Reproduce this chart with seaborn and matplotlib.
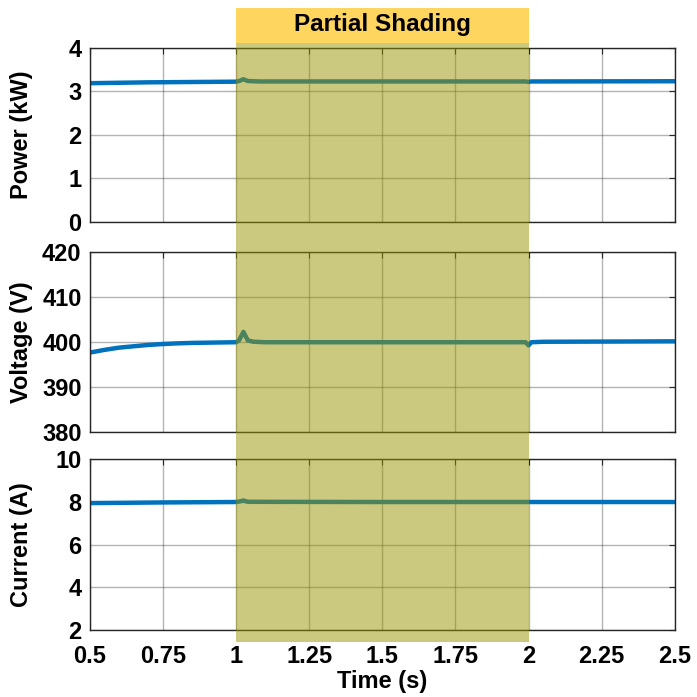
import pandas as pd
import seaborn as sns
import matplotlib.pyplot as plt
from matplotlib.patches import Rectangle
from matplotlib.transforms import blended_transform_factory

# datos
t_power = [0.5, 0.6, 0.7, 0.8, 0.9, 1.0, 1.01, 1.025, 1.04, 1.08, 1.5, 1.99, 2.0, 2.01, 2.5]
power = [3.19, 3.20, 3.21, 3.215, 3.22, 3.225, 3.24, 3.28, 3.24, 3.23, 3.23, 3.23, 3.22, 3.23, 3.235]

t_volt = [0.5, 0.55, 0.6, 0.65, 0.7, 0.75, 0.8, 0.85, 0.9, 0.95, 1.0, 1.01, 1.025,
          1.04, 1.06, 1.1, 1.5, 1.99, 2.0, 2.01, 2.05, 2.5]
voltage = [397.7, 398.3, 398.8, 399.1, 399.4, 399.6, 399.75, 399.85, 399.9, 399.95, 400.0,
           400.4, 402.3, 400.4, 400.1, 400.0, 400.0, 400.0, 399.3, 400.0, 400.1, 400.2]

t_curr = [0.5, 0.75, 1.0, 1.01, 1.025, 1.04, 1.5, 2.0, 2.5]
current = [7.95, 7.98, 8.0, 8.02, 8.07, 8.01, 8.0, 8.0, 8.0]

x_ticks = [0.5, 0.75, 1, 1.25, 1.5, 1.75, 2, 2.25, 2.5]
x_labels = ['0.5', '0.75', '1', '1.25', '1.5', '1.75', '2', '2.25', '2.5']
shade_start, shade_end = 1.0, 2.0

sns.set_style('white')
plt.rcParams['font.family'] = ['Liberation Sans', 'DejaVu Sans']
plt.rcParams['font.weight'] = 'bold'
plt.rcParams['text.color'] = 'black'
plt.rcParams['axes.labelcolor'] = 'black'
plt.rcParams['xtick.labelcolor'] = 'black'
plt.rcParams['ytick.labelcolor'] = 'black'

FS = 17

fig = plt.figure(figsize=(6.97, 6.97), dpi=100)
L, W = 0.129, 0.839
ax1 = fig.add_axes([L, 0.6815, W, 0.2497])
ax2 = fig.add_axes([L, 0.380, W, 0.258])
ax3 = fig.add_axes([L, 0.096, W, 0.245])

paneles = [
    (ax1, t_power, power, 'Power (kW)', (0, 4), [0, 1, 2, 3, 4]),
    (ax2, t_volt, voltage, 'Voltage (V)', (380, 420), [380, 390, 400, 410, 420]),
    (ax3, t_curr, current, 'Current (A)', (2, 10), [2, 4, 6, 8, 10]),
]

for ax, t, y, lab, lim, yt in paneles:
    df = pd.DataFrame({'t': t, 'y': y})
    sns.lineplot(data=df, x='t', y='y', ax=ax, color='#0072BD', linewidth=3.2)
    ax.set_xlim(0.5, 2.5)
    ax.set_ylim(*lim)
    ax.set_yticks(yt)
    ax.set_xticks(x_ticks)
    ax.grid(True, color='#262626', alpha=0.35, linewidth=1)
    ax.set_ylabel(lab, fontsize=FS, fontweight='bold', color='black')
    ax.set_xlabel('')
    ax.tick_params(axis='y', labelsize=FS, direction='in', length=4,
                   right=True, color='#262626', labelcolor='black', pad=6)
    ax.tick_params(axis='x', labelsize=FS, direction='in', length=4,
                   top=True, color='#262626', labelcolor='black', pad=11)
    for s in ax.spines.values():
        s.set_color('#262626')
        s.set_linewidth(1)
    for lbl in ax.get_yticklabels():
        lbl.set_fontweight('bold')
    ax.yaxis.set_label_coords(-0.097, 0.5)

ax1.tick_params(labelbottom=False)
ax2.tick_params(labelbottom=False)
ax3.set_xticklabels(x_labels, fontweight='bold')
ax3.set_xlabel('Time (s)', fontsize=FS, fontweight='bold', labelpad=1, color='black')

# zona de sombreado parcial
tr = blended_transform_factory(ax1.transData, fig.transFigure)
fig.patches.append(Rectangle((shade_start, 1 - 642 / 697), shade_end - shade_start,
                             (642 - 42) / 697, transform=tr, facecolor=(0.59, 0.58, 0.0),
                             alpha=0.5, edgecolor='none', zorder=5))
fig.patches.append(Rectangle((shade_start, 1 - 43 / 697), shade_end - shade_start,
                             35 / 697, transform=tr, facecolor='#FDD55F',
                             edgecolor='none', zorder=5))
fig.text(0.5 * (236 + 529) / 697, 1 - 24 / 697, 'Partial Shading', ha='center', va='center',
         fontsize=17.5, fontweight='bold', color='black', zorder=6)

fig.savefig('out.png', dpi=100)
